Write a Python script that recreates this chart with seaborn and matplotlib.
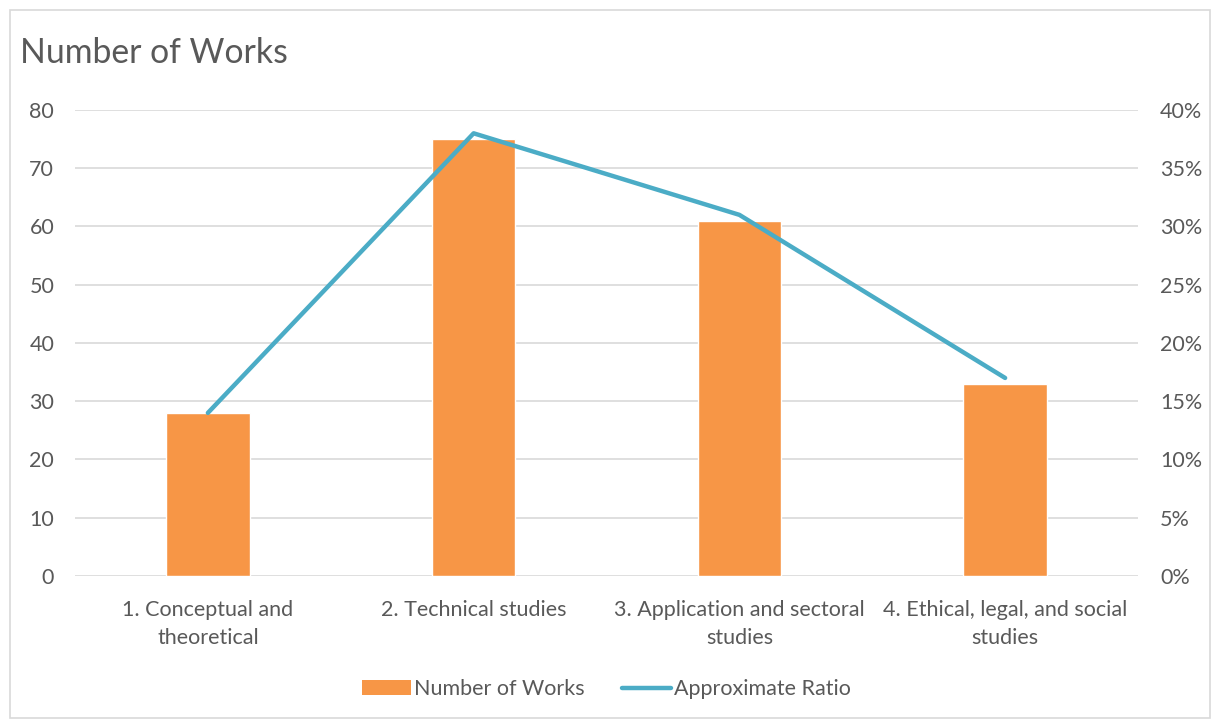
import matplotlib
matplotlib.use("Agg")
import matplotlib.pyplot as plt
import seaborn as sns
import numpy as np
import pandas as pd
from matplotlib.patches import Rectangle, Patch
from matplotlib.lines import Line2D
from matplotlib.ticker import FuncFormatter, MultipleLocator

categories = ["1. Conceptual and theoretical", "2. Technical studies",
              "3. Application and sectoral studies", "4. Ethical, legal, and social studies"]
tick_labels = ["1. Conceptual and\ntheoretical", "2. Technical studies",
               "3. Application and sectoral\nstudies", "4. Ethical, legal, and social\nstudies"]
works = [28, 75, 61, 33]
ratio = [0.14, 0.38, 0.31, 0.17]

sns.set_style("white")
plt.rcParams['font.family'] = ['Lato', 'DejaVu Sans']
TXT = "#595959"
ORANGE = "#F79646"
BLUE = "#4BACC6"
GRID = "#D9D9D9"
FS = 15.5

fig = plt.figure(figsize=(12.13, 7.22), dpi=100)
ax = fig.add_axes([75/1213, 146/722, (1138-75)/1213, (576-110)/722])

df = pd.DataFrame({"cat": categories, "works": works, "ratio": ratio, "pos": np.arange(len(categories))})
sns.barplot(data=df, x="cat", y="works", color=ORANGE, saturation=1, width=0.315, ax=ax, zorder=3)
ax.set_ylim(0, 80)
ax.set_xlim(-0.5, 3.5)
ax.yaxis.set_major_locator(MultipleLocator(10))
ax.grid(axis="y", color=GRID, linewidth=1.2, zorder=0)
ax.set_axisbelow(True)
ax.set_xticks(range(len(categories)))
ax.set_xticklabels(tick_labels, fontsize=FS, color=TXT, linespacing=1.55)
ax.tick_params(axis="both", length=0, labelsize=FS, labelcolor=TXT)
ax.tick_params(axis="y", pad=15)
ax.tick_params(axis="x", pad=17)
ax.set_xlabel("")
ax.set_ylabel("")
for s in ax.spines.values():
    s.set_visible(False)

ax2 = ax.twinx()
sns.lineplot(data=df, x="pos", y="ratio", color=BLUE, linewidth=3.2, ax=ax2,
             solid_capstyle="round", solid_joinstyle="round", zorder=4)
ax2.set_ylim(0, 0.40)
ax2.set_xlim(-0.5, 3.5)
ax2.yaxis.set_major_locator(MultipleLocator(0.05))
ax2.yaxis.set_major_formatter(FuncFormatter(lambda v, p: f"{v*100:.0f}%"))
ax2.tick_params(axis="y", length=0, labelsize=FS, labelcolor=TXT, pad=16)
ax2.set_ylabel("")
ax2.set_xlabel("")
for s in ax2.spines.values():
    s.set_visible(False)
if ax2.get_legend():
    ax2.get_legend().remove()

fig.text(20/1213, 1 - 53/722, "Number of Works", fontsize=24.3, color=TXT, va="center", ha="left")

handles = [Patch(facecolor=ORANGE, edgecolor="none"),
           Line2D([0], [0], color=BLUE, linewidth=3.2, solid_capstyle="round")]
fig.legend(handles, ["Number of Works", "Approximate Ratio"], loc="center",
           bbox_to_anchor=(0.5, 1 - 689/722), ncol=2, frameon=False, fontsize=FS,
           labelcolor=TXT, handlelength=2.3, handleheight=0.65, handletextpad=0.15, columnspacing=1.7)

fig.patches.append(Rectangle((10/1213, 4/722), 1200/1213, 708/722, transform=fig.transFigure,
                             fill=False, edgecolor="#D9D9D9", linewidth=1.2))

fig.savefig("out.png", dpi=100)
